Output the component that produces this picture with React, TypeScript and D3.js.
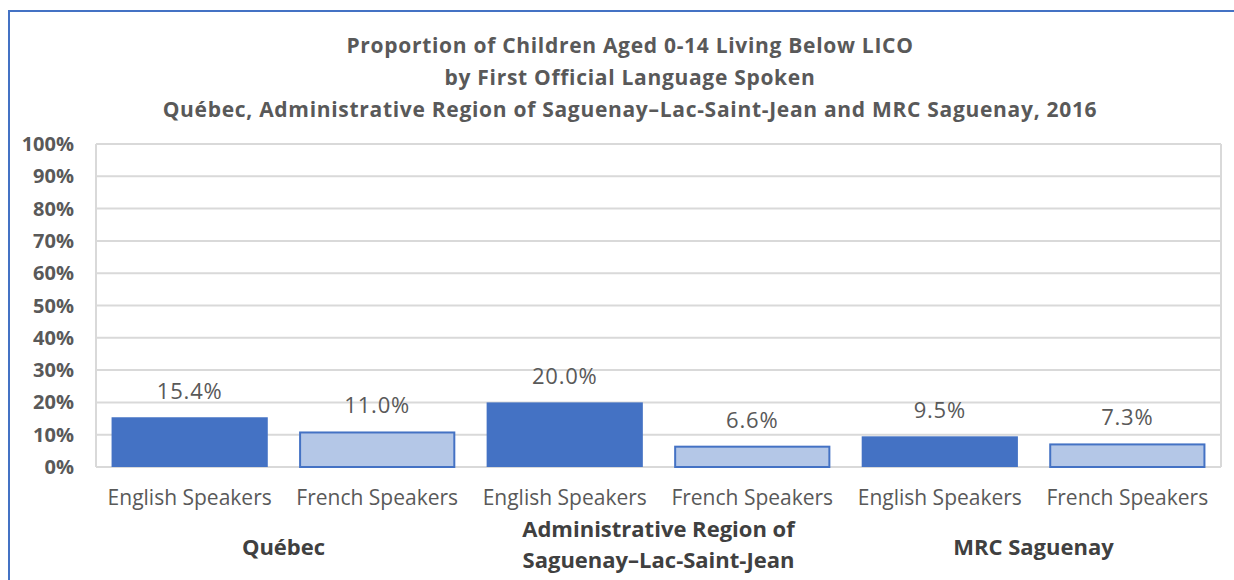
import React from "react";
import * as d3 from "d3";

const titleLines = [
  "Proportion of Children Aged 0-14 Living Below LICO",
  "by First Official Language Spoken",
  "Québec, Administrative Region of Saguenay–Lac-Saint-Jean and MRC Saguenay, 2016",
];
const languages = ["English Speakers", "French Speakers"];
const regionLabels = [
  ["Québec"],
  ["Administrative Region of", "Saguenay–Lac-Saint-Jean"],
  ["MRC Saguenay"],
];
const englishValues = [15.4, 20.0, 9.5];
const frenchValues = [11.0, 6.6, 7.3];
const yTicks = [0, 10, 20, 30, 40, 50, 60, 70, 80, 90, 100];

const W = 1234;
const H = 580;
const plot = { left: 96, right: 1221, top: 144, bottom: 467 };
const FONT = "'Open Sans', 'Noto Sans', sans-serif";
const GREY = "#595959";
const DARK = "#4472C4";
const LIGHT = "#B4C7E7";

const App = () => {
  const bars = regionLabels.flatMap((r, i) => [
    { key: `${i}-0`, region: i, lang: 0, value: englishValues[i] },
    { key: `${i}-1`, region: i, lang: 1, value: frenchValues[i] },
  ]);

  const x = d3
    .scaleBand<string>()
    .domain(bars.map((b) => b.key))
    .range([plot.left, plot.right])
    .paddingInner(0.167)
    .paddingOuter(0.083);

  const y = d3.scaleLinear().domain([0, 100]).range([plot.bottom, plot.top]);

  const groupX = d3
    .scaleBand<number>()
    .domain(regionLabels.map((_, i) => i))
    .range([plot.left, plot.right]);

  return (
    <div style={{ position: "absolute", left: 0, top: 0 }}>
      <svg width={W} height={H} style={{ display: "block", fontFamily: FONT }}>
        <rect x={0} y={0} width={W} height={H} fill="#fff" />
        {/* outer chart border */}
        <path d={`M9,${H} V11 H${W}`} fill="none" stroke={DARK} strokeWidth={2} />

        {titleLines.map((t, i) => (
          <text
            key={t}
            x={630}
            y={53 + i * 32}
            textAnchor="middle"
            fontSize={21}
            fontWeight="bold"
            letterSpacing={0.7}
            fill={GREY}
          >
            {t}
          </text>
        ))}

        {/* gridlines */}
        {yTicks.map((t) => (
          <line
            key={t}
            x1={plot.left}
            x2={plot.right}
            y1={y(t)}
            y2={y(t)}
            stroke="#D9D9D9"
            strokeWidth={2}
          />
        ))}
        <line x1={plot.left} x2={plot.left} y1={plot.top} y2={plot.bottom} stroke="#D9D9D9" strokeWidth={2} />
        <line x1={plot.right} x2={plot.right} y1={plot.top} y2={plot.bottom} stroke="#D9D9D9" strokeWidth={2} />

        {yTicks.map((t) => (
          <text
            key={t}
            x={74}
            y={y(t)}
            dy="0.35em"
            textAnchor="end"
            fontSize={20}
            fontWeight="bold"
            fill={GREY}
          >
            {d3.format(".0%")(t / 100)}
          </text>
        ))}

        {bars.map((b) => (
          <g key={b.key}>
            <rect
              x={x(b.key)! + (b.lang === 1 ? 1 : 0)}
              y={y(b.value) + (b.lang === 1 ? 1 : 0)}
              width={x.bandwidth() - (b.lang === 1 ? 2 : 0)}
              height={y(0) - y(b.value) - (b.lang === 1 ? 1 : 0)}
              fill={b.lang === 0 ? DARK : LIGHT}
              stroke={b.lang === 1 ? DARK : "none"}
              strokeWidth={2}
            />
            <text
              x={x(b.key)! + x.bandwidth() / 2}
              y={y(b.value) - 18}
              textAnchor="middle"
              fontSize={22}
              letterSpacing={0.8}
              fill={GREY}
            >
              {d3.format(".1f")(b.value)}%
            </text>
            <text
              x={x(b.key)! + x.bandwidth() / 2}
              y={505}
              textAnchor="middle"
              fontSize={21}
              fill={GREY}
            >
              {languages[b.lang]}
            </text>
          </g>
        ))}

        {regionLabels.map((lines, i) => {
          const cx = groupX(i)! + groupX.bandwidth() / 2;
          const y0 = lines.length === 1 ? 555 : 537;
          return (
            <text
              key={i}
              textAnchor="middle"
              fontSize={22}
              fontWeight="bold"
              fill="#404040"
            >
              {lines.map((l, j) => (
                <tspan key={l} x={cx} y={y0 + j * 31}>
                  {l}
                </tspan>
              ))}
            </text>
          );
        })}
      </svg>
    </div>
  );
};

export default App;
